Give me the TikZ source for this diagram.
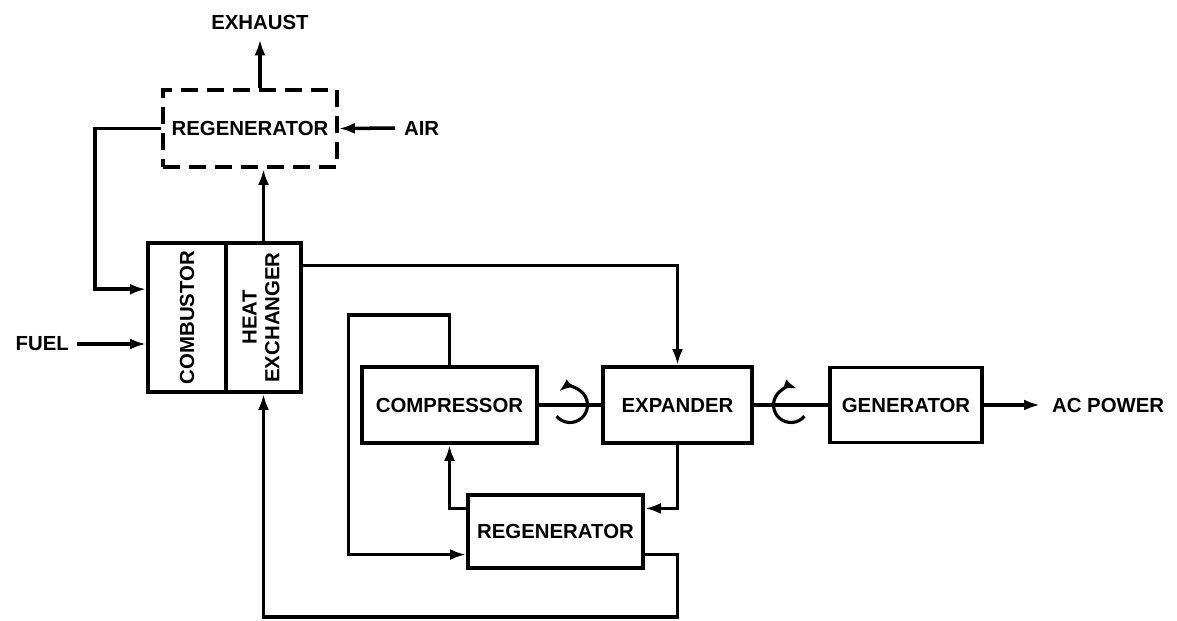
\documentclass[tikz,border=0pt]{standalone}
\usepackage{fontspec}
\setmainfont{Liberation Sans}
\usetikzlibrary{arrows.meta, positioning, calc}
\newcommand{\blockfont}{\fontsize{11.6}{13}\selectfont\bfseries}
\tikzset{
  % Plant blocks
  plantblock/.style={draw, line width=2.2pt, align=center, inner sep=2pt, font=\blockfont},
  dashblock/.style={plantblock, dash pattern=on 0.34cm off 0.18cm},
  % Outside labels
  flowlabel/.style={inner sep=1pt, font=\blockfont},
  % Pointers
  flowline/.style={line width=2pt},
  flowpointer/.style={-{Latex[length=3.2mm,width=2.2mm]}, line width=2pt},
  spinpointer/.style={-{Latex[length=2.6mm,width=2mm]}, line width=1.8pt},
}

\begin{document}
\begin{tikzpicture}[x=0.02cm, y=-0.02cm]
  \useasboundingbox (0,0) rectangle (1177,621);

  % Define plant nodes
  \node[dashblock, minimum width=3.48cm, minimum height=1.54cm] (regtop) at (250,128.5) {REGENERATOR};
  \node[plantblock, minimum width=1.56cm, minimum height=2.98cm] (comb) at (187,317.5) {\rotatebox{90}{COMBUSTOR}};
  \node[plantblock, minimum width=1.5cm, minimum height=2.98cm] (hx) at (263.5,317.5)
    {\rotatebox{90}{\begin{tabular}{@{}c@{}}HEAT\\EXCHANGER\end{tabular}}};
  \node[plantblock, minimum width=3.5cm, minimum height=1.52cm] (comp) at (449.5,405) {COMPRESSOR};
  \node[plantblock, minimum width=2.98cm, minimum height=1.52cm] (exp) at (677.5,405) {EXPANDER};
  \node[plantblock, minimum width=3.04cm, minimum height=1.5cm] (gen) at (906,405) {GENERATOR};
  \node[plantblock, minimum width=3.5cm, minimum height=1.46cm] (regbot) at (555.5,531.5) {REGENERATOR};

  % Outside labels
  \node[flowlabel] (exhaust) at (260,22) {EXHAUST};
  \node[flowlabel, anchor=west] (air) at (402,128) {AIR};
  \node[flowlabel, anchor=east] (fuel) at (71,344) {FUEL};
  \node[flowlabel, anchor=west] (acpower) at (1050,405) {AC POWER};

  % Bend points
  \coordinate (airbend) at ($(regtop.west)+(-66,0)$);
  \coordinate (combin) at ($(comb.north west)!0.315!(comb.south west)$);
  \coordinate (cmpbend) at ($(comp.north)+(-101,-50)$);
  \coordinate (retbend) at ($(exp.south)+(0,172)$);
  \coordinate (cplleft) at ($(comp.east)!0.5!(exp.west)$);
  \coordinate (cplright) at ($(exp.east)!0.5!(gen.west)$);

  % Outer loop
  \draw[flowpointer, shorten >=0.16cm] (regtop.north -| exhaust.south) -- (exhaust.south);
  \draw[flowpointer, shorten <=0.14cm] (air.west) -- (regtop.east);
  \draw[flowpointer] (hx.north) -- (regtop.south -| hx.north);
  \draw[flowpointer] (regtop.west) -| (airbend |- combin) -- (combin);
  \draw[flowpointer, shorten <=0.12cm] (fuel.east) -- (comb.west |- fuel.east);

  % Closed cycle
  \draw[flowpointer] ($(hx.north east)!0.16!(hx.south east)$) -| (exp.north);
  \draw[flowpointer] (exp.south) |- ($(regbot.north east)!0.2!(regbot.south east)$);
  \draw[flowpointer] ($(regbot.north west)!0.2!(regbot.south west)$) -| (comp.south);
  \draw[flowpointer] (comp.north) |- (cmpbend) |- ($(regbot.north west)!0.8!(regbot.south west)$);
  \draw[flowpointer] ($(regbot.north east)!0.8!(regbot.south east)$) -| (retbend) -| (hx.south);

  % Shaft and couplings
  \draw[flowline] (comp.east) -- (exp.west);
  \draw[flowline] (exp.east) -- (gen.west);
  \draw[flowpointer, shorten >=0.2cm] (gen.east) -- (acpower.west);
  \draw[spinpointer] ($(cplleft)+(-140:0.35cm)$) arc[start angle=-140, end angle=128, radius=0.35cm];
  \draw[spinpointer] ($(cplright)+(-40:0.35cm)$) arc[start angle=-40, end angle=-290, radius=0.35cm];

\end{tikzpicture}
\end{document}
